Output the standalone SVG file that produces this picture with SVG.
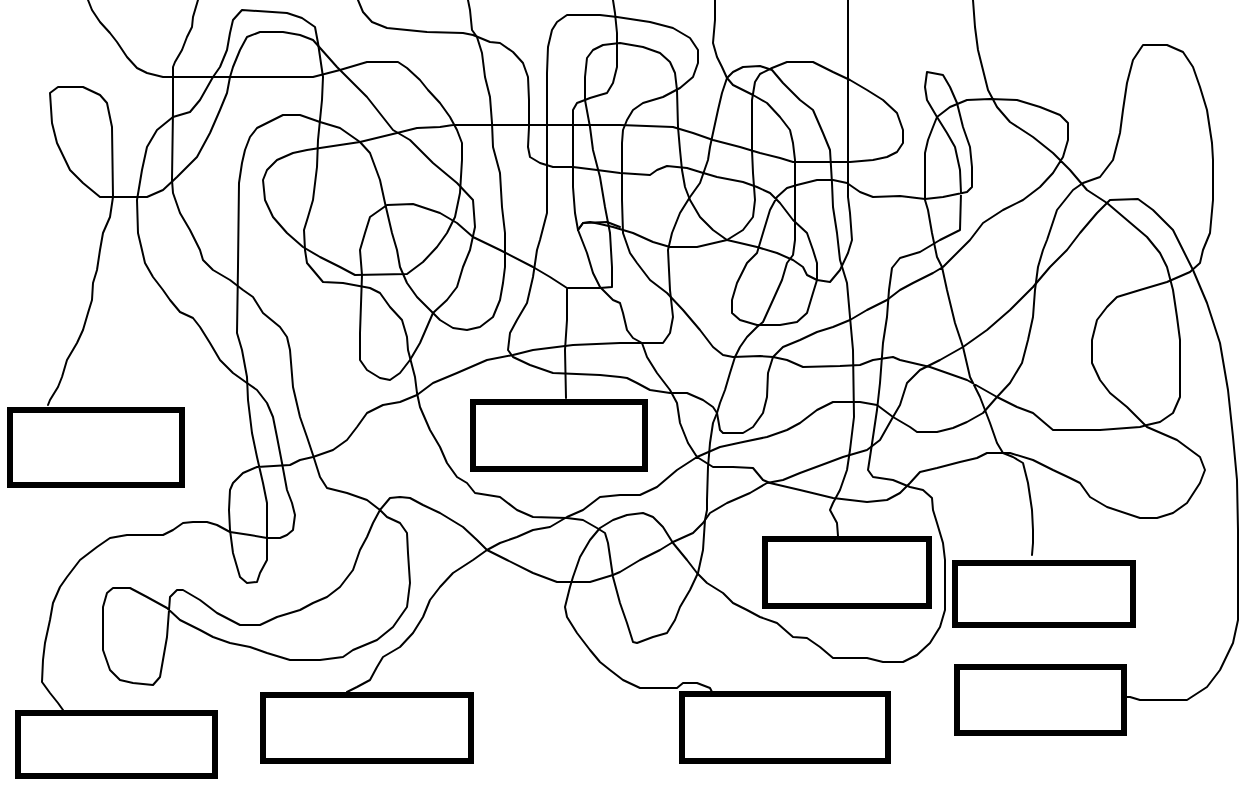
<svg xmlns="http://www.w3.org/2000/svg" width="1239" height="787" viewBox="0 0 1239 787">
<style>
.ln{fill:none;stroke:#000;stroke-width:2;stroke-linejoin:round;stroke-linecap:round}
.box{fill:#fff;stroke:#000;stroke-width:6}
</style>
<rect width="1239" height="787" fill="#fff"/>
<g id="connectors">
<polyline class="ln" points="88,0 92,10 100,22 110,33 117,42 127,57 137,68 147,73 163,77 313,77 340,70 367,62 398,62 407,68 420,80 428,90 440,103 450,117 457,130 462,143 462,160 460,193 455,217 447,233 437,247 423,262 407,274 355,275 340,267 320,257 303,247 287,233 273,217 265,200 263,180 267,170 277,160 293,153 307,150 320,148 360,142 397,133 417,128 440,127 453,125 620,125 673,127 693,133 713,140 740,147 760,153 780,158 793,162 850,162 873,160 887,157 897,152 903,143 903,130 897,113 883,100 867,90 850,80 833,72 813,62 787,62 772,68 760,74 755,82 752,100 752,150 753,173 755,200 753,217 743,230 727,240 697,247 670,247 653,242 633,233 613,227 600,224 590,222 583,223 578,230"/>
<polyline class="ln" points="198,0 193,17 192,27 187,37 182,50 175,62 173,67 173,110 172,180 173,193 180,213 190,230 200,250 203,260 213,270 230,280 243,290 253,297 263,313 280,327 287,337 290,350 293,387 300,417 307,437 313,455 320,477 327,488 347,493 367,500 380,510 387,517 400,523 407,533 408,553 410,583 407,607 393,627 377,640 353,650 343,657 320,660 290,660 267,653 250,647 230,643 213,637 200,630 180,620 167,608 147,597 130,588 113,588 107,593 103,607 103,650 110,670 120,680 133,683 153,685 160,677 167,637 170,597 177,590 183,590 200,600 217,613 240,625 260,625 277,617 300,610 313,603 327,597 340,587 353,570 360,550 367,537 373,523 380,510 390,498 400,497 410,498 423,505 440,513 463,527 477,540 487,550 507,560 533,573 557,582 590,582 613,575 620,572 640,560 660,550 673,542 693,533 703,523 710,513 727,503 750,493 767,483 783,480 800,473 827,463 843,457 867,450 880,440 893,417 900,405 907,383 920,370 940,360 963,347 987,330 1010,310 1033,287 1050,267 1057,260 1067,250 1080,233 1097,213 1110,200 1138,199 1153,210 1173,230 1183,250 1193,270 1207,303 1220,343 1228,390 1233,437 1237,480 1238,530 1238,620 1233,643 1220,670 1207,687 1187,700 1140,700 1130,697 1127,697"/>
<polyline class="ln" points="358,0 363,12 372,22 387,28 427,32 463,33 473,35 490,42 500,43 513,52 523,63 528,77 529,100 529,127 528,147 530,157 540,163 553,167 573,167 597,170 620,173 650,175 657,170 667,166 687,168 700,172 717,177 743,182 757,187 770,193 780,203 793,220 807,233 813,250 817,263 817,280 813,293 807,313 797,322 780,325 757,325 740,320 732,313 732,300 737,283 747,263 757,253 763,233 770,210 777,197 787,188 797,185 817,180 833,180 847,183 860,192 873,197 900,196 925,199 943,197 967,192 972,187 972,167 970,147 963,127 957,103 950,87 943,75 927,72 925,87 927,100 937,117 947,133 955,147 960,170 961,193 960,230 940,240 920,252 900,258 892,268 889,290 887,317 883,343 880,383 877,410 873,437 870,457 868,470 873,477 893,480 910,487 923,490 932,498 933,510 937,523 943,543 945,560 945,610 940,627 930,643 917,655 903,662 883,662 867,658 833,658 820,647 807,638 793,637 777,623 760,617 747,610 733,603 723,593 707,583 697,573 687,560 673,543 663,527 653,517 643,513 627,515 613,520 600,528 590,540 580,557 573,577 570,587 565,607 567,617 577,633 590,650 600,662 610,670 623,680 640,688 677,688 683,683 697,683 710,688 712,692"/>
<polyline class="ln" points="468,0 470,10 472,30 477,37 482,53 485,77 490,97 492,123 493,147 500,173 502,207 505,233 505,267 503,283 500,300 493,317 480,327 467,330 453,328 440,320 430,310 417,297 407,283 400,267 397,250 392,233 385,203 380,180 370,153 360,142 340,128 320,122 300,115 283,115 267,123 257,128 250,137 245,150 242,163 239,183 238,267 237,333 242,350 247,377 248,400 252,433 257,457 263,483 267,503 267,540 267,560 260,573 257,582 247,583 240,577 233,553 230,530 229,510 230,490 233,483 243,473 257,467 290,465 300,460 313,457 333,450 347,440 357,427 367,413 383,405 400,402 417,395 433,383 457,373 487,360 513,355 533,350 573,345 620,343 663,343 670,333 673,317 670,290 668,250 672,233 680,213 690,197 700,183 708,160 710,147 713,133 718,110 722,93 727,78 733,72 743,67 760,66 772,70 783,83 800,100 813,110 823,133 830,150 832,183 833,207 837,233 840,260 847,283 850,317 853,350 854,417 850,450 847,470 840,490 833,503 830,510 837,523 838,536"/>
<polyline class="ln" points="613,0 615,13 617,33 617,67 613,83 607,93 600,95 590,98 585,100 577,103 573,110 573,187 575,213 578,230 587,253 593,273 600,287 613,300 620,303 623,313 627,330 633,338 642,343 647,357 657,373 670,390 677,403 680,423 688,443 697,457 713,467 733,467 753,468 763,480 770,483 800,490 833,498 867,502 887,500 900,493 910,483 920,472 937,468 960,462 977,458 987,453 1010,453 1033,460 1053,470 1070,478 1080,483 1090,497 1107,507 1140,518 1157,518 1173,513 1187,503 1200,483 1205,470 1200,457 1177,440 1147,427 1127,407 1110,393 1100,380 1092,363 1092,340 1097,320 1107,307 1117,297 1140,290 1167,282 1190,272 1200,263 1203,250 1210,233 1213,200 1213,160 1212,143 1207,110 1200,87 1193,67 1183,52 1167,45 1143,45 1133,60 1127,83 1123,110 1120,133 1113,160 1100,177 1083,183 1073,190 1057,210 1047,240 1043,250 1038,267 1035,290 1033,317 1028,340 1022,363 1010,383 997,397 983,413 967,422 953,428 937,432 917,432 910,427 893,417 877,405 860,402 833,402 817,410 800,423 787,430 767,437 743,442 720,447 697,457 677,470 657,487 640,495 620,495 600,497 583,510 567,517 550,527 533,530 517,537 500,543 487,550 473,560 453,573 440,587 430,600 423,617 413,633 400,647 383,657 377,667 370,680 357,687 347,692"/>
<polyline class="ln" points="848,0 848,197 850,213 852,240 848,253 840,270 830,282 817,280 807,275 803,267 793,260 777,253 757,247 740,243 727,240 713,230 700,217 690,200 685,187 682,170 680,150 678,127 677,90 675,73 670,62 660,53 643,47 620,43 603,45 593,50 587,58 585,77 585,100 590,127 593,150 600,177 605,207 610,233 612,267 612,287 600,288 568,288"/>
<polyline class="ln" points="973,0 975,27 978,50 983,70 988,90 997,107 1010,122 1033,137 1053,153 1070,170 1087,190 1107,203 1127,220 1147,237 1160,253 1167,267 1173,290 1177,317 1180,340 1180,397 1173,413 1160,422 1147,425 1140,427 1100,430 1053,430 1033,413 1017,407 997,397 967,380 930,367 900,360 893,357 873,360 860,365 840,366 803,367 787,360 773,357 760,356 733,357 723,355 713,347 700,330 683,310 667,293 650,280 637,263 630,253 623,233 622,200 622,143 623,130 627,120 633,110 643,103 663,97 680,88 693,77 698,63 698,50 690,38 673,28 650,22 617,17 600,15 567,15 557,22 552,30 548,47 547,73 547,213 540,240 537,250 533,277 527,303 517,320 510,333 508,350 513,357 530,365 553,373 600,375 620,377 627,378 637,383 650,390 670,393 687,393 703,400 713,407 717,413 720,430 723,433 743,433 753,427 763,413 767,397 768,373 773,357 783,347 800,340 817,332 833,327 850,320 867,310 887,300 900,290 913,283 933,273 943,267 953,257 970,240 983,223 1003,210 1023,200 1040,187 1053,173 1063,157 1068,140 1068,123 1060,115 1040,107 1017,100 990,99 967,100 950,107 937,117 933,127 928,140 925,153 925,200 928,210 932,233 937,257 942,267 947,290 955,323 963,347 970,377 980,397 990,423 997,443 1003,453 1013,457 1023,463 1028,483 1032,510 1033,530 1033,543 1032,555"/>
<polyline class="ln" points="715,0 715,20 713,43 717,57 722,67 727,78 733,85 743,90 753,95 767,103 780,117 790,130 793,143 795,160 795,240 793,255 787,263 782,280 773,300 763,322 757,327 747,337 740,347 735,357 730,373 725,390 720,403 717,413 713,423 710,443 708,467 707,500 707,510 705,520 703,550 698,573 690,590 680,607 675,620 667,633 653,637 637,643 633,642 627,623 620,603 613,577 608,543 605,533 597,528 583,520 567,518 533,517 517,510 500,497 475,493 467,483 457,477 447,463 440,447 430,430 420,407 417,393 415,377 408,350 407,337 402,320 390,307 380,293 370,288 343,283 323,282 307,263 305,250 304,230 308,217 313,200 317,167 318,140 322,100 323,77 318,43 315,27 302,18 287,13 242,10 233,20 230,33 227,50 220,67 213,77 200,100 190,112 173,117 157,130 147,147 142,170 137,200 138,233 142,250 145,263 153,277 163,290 170,300 180,312 193,318 200,327 210,343 220,360 233,373 247,383 257,390 267,403 273,417 277,437 282,463 287,490 292,503 295,515 293,530 287,535 280,538 267,538 250,535 230,532 217,525 207,522 193,522 183,523 173,530 163,535 127,535 110,538 97,547 80,560 67,577 60,587 53,603 50,620 45,643 43,660 42,682 50,693 58,703 63,710"/>
<polyline class="ln" points="48,405 50,400 58,387 62,377 67,360 77,343 83,330 88,313 92,300 93,283 97,270 100,250 103,233 110,217 113,197 112,127 107,103 100,95 83,87 58,87 50,93 52,123 57,143 70,170 83,183 100,197 147,197 163,190 177,177 197,157 210,133 220,110 227,93 230,77 233,67 240,50 247,37 260,32 283,32 300,35 313,40 337,67 367,97 393,130 410,140 433,163 457,183 473,200 475,227 470,250 463,267 457,287 447,300 433,313 420,343 410,360 400,373 390,380 380,378 367,370 360,360 360,333 362,275 360,250 365,233 370,217 387,205 413,204 440,213 457,223 473,237 500,250 533,267 550,277 567,288 567,320 565,350 566,398"/>
<polyline class="ln" points="578,230 583,223 607,222 620,227"/>
</g>
<g id="box1"><rect class="box" x="10" y="410" width="172" height="75"/></g>
<g id="box2"><rect class="box" x="473" y="402" width="172" height="67"/></g>
<g id="box3"><rect class="box" x="765" y="539" width="164" height="67"/></g>
<g id="box4"><rect class="box" x="955" y="563" width="178" height="62"/></g>
<g id="box5"><rect class="box" x="957" y="667" width="167" height="66"/></g>
<g id="box6"><rect class="box" x="682" y="694" width="206" height="67"/></g>
<g id="box7"><rect class="box" x="18" y="713" width="197" height="63"/></g>
<g id="box8"><rect class="box" x="263" y="695" width="208" height="66"/></g>
</svg>
